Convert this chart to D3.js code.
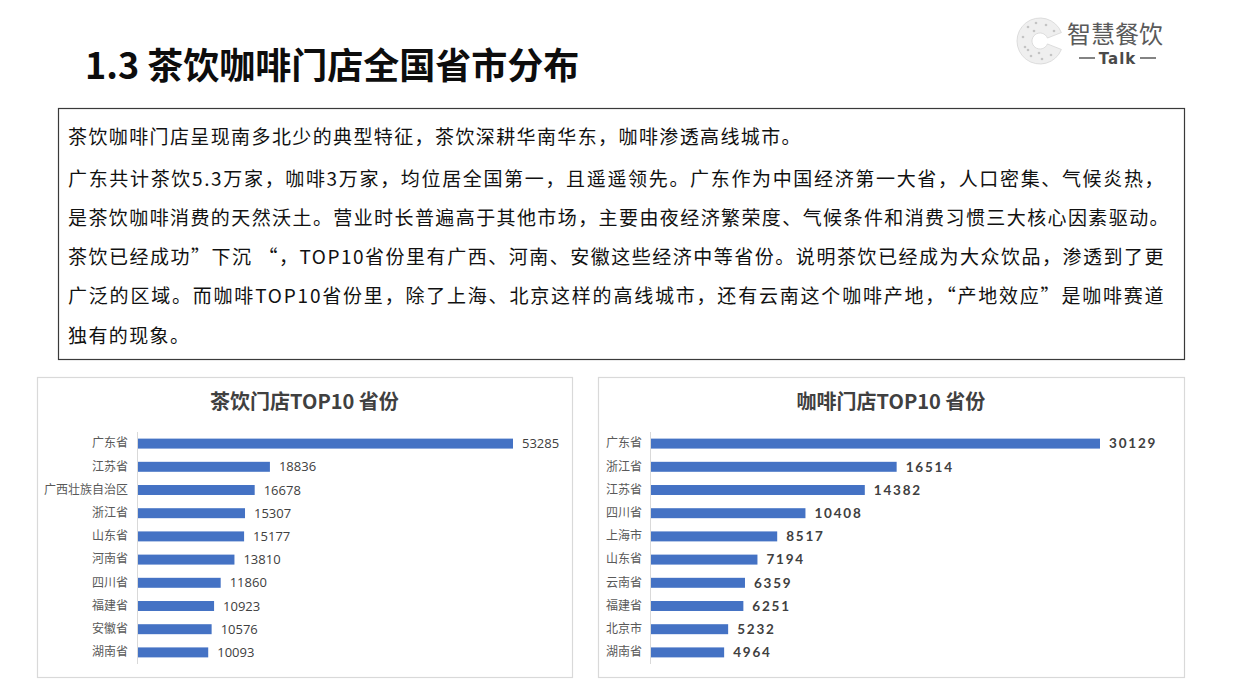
<!DOCTYPE html>
<html><head><meta charset="utf-8">
<script src="https://cdn.jsdelivr.net/npm/d3@7"></script>
<style>
html,body{margin:0;padding:0;background:#fff;}
svg{display:block;}
</style></head>
<body>
<svg id="c" width="1240" height="697"></svg>
<script>
const pageTitle = "1.3 茶饮咖啡门店全国省市分布";
const bodyLines = [
  "茶饮咖啡门店呈现南多北少的典型特征，茶饮深耕华南华东，咖啡渗透高线城市。",
  "广东共计茶饮5.3万家，咖啡3万家，均位居全国第一，且遥遥领先。广东作为中国经济第一大省，人口密集、气候炎热，",
  "是茶饮咖啡消费的天然沃土。营业时长普遍高于其他市场，主要由夜经济繁荣度、气候条件和消费习惯三大核心因素驱动。",
  "茶饮已经成功”下沉 “，TOP10省份里有广西、河南、安徽这些经济中等省份。说明茶饮已经成为大众饮品，渗透到了更",
  "广泛的区域。而咖啡TOP10省份里，除了上海、北京这样的高线城市，还有云南这个咖啡产地，“产地效应”是咖啡赛道",
  "独有的现象。"
];
const teaTitle = "茶饮门店TOP10 省份";
const teaProvinces = ["广东省","江苏省","广西壮族自治区","浙江省","山东省","河南省","四川省","福建省","安徽省","湖南省"];
const teaValues = [53285,18836,16678,15307,15177,13810,11860,10923,10576,10093];
const coffeeTitle = "咖啡门店TOP10 省份";
const coffeeProvinces = ["广东省","浙江省","江苏省","四川省","上海市","山东省","云南省","福建省","北京市","湖南省"];
const coffeeValues = [30129,16514,14382,10408,8517,7194,6359,6251,5232,4964];

const svg = d3.select("#c");
const CJK = "'Noto Sans CJK SC','Noto Sans',sans-serif";

// Page title
svg.append("text").attr("x",85).attr("y",79)
  .attr("font-family",CJK).attr("font-weight",700).attr("font-size",36)
  .attr("fill","#0d0d0d").text(pageTitle);

// Logo
const logo = svg.append("g");
const arc = d3.arc().innerRadius(8).outerRadius(23).startAngle(Math.PI*0.62).endAngle(Math.PI*2.38);
logo.append("path").attr("d",arc()).attr("transform","translate(1040,41)")
  .attr("fill","#efefef").attr("stroke","#d6d6d6").attr("stroke-width",0.8);
const dots = [[-12,-14],[-4,-18],[6,-16],[-17,-4],[-15,6],[-9,15],[2,18],[11,14],[-6,-10],[-12,9],[14,-10],[-1,12]];
logo.selectAll("circle.d").data(dots).join("circle")
  .attr("cx",d=>1040+d[0]).attr("cy",d=>41+d[1]).attr("r",1.3).attr("fill","#c4c4c4");
logo.append("text").attr("x",1067).attr("y",43).attr("font-family",CJK).attr("font-size",24)
  .attr("font-weight",400).attr("fill","#5a5a5a").text("智慧餐饮");
logo.append("line").attr("x1",1079).attr("x2",1095).attr("y1",58).attr("y2",58).attr("stroke","#5a5a5a").attr("stroke-width",1.5);
logo.append("line").attr("x1",1140).attr("x2",1156).attr("y1",58).attr("y2",58).attr("stroke","#5a5a5a").attr("stroke-width",1.5);
logo.append("text").attr("x",1117.5).attr("y",64).attr("text-anchor","middle")
  .attr("font-family","'DejaVu Sans',sans-serif").attr("font-weight",700).attr("font-size",15)
  .attr("letter-spacing",1).attr("fill","#4a4a4a").text("Talk");

// Text box
svg.append("rect").attr("x",58.5).attr("y",108.5).attr("width",1126).attr("height",251)
  .attr("fill","#fff").attr("stroke","#3a3a3a").attr("stroke-width",1.2);
const lineWidths = [734,1097,1102,1097,1097,null];
const lineY = [144,186,225,264,303,343];
bodyLines.forEach((t,i)=>{
  const el = svg.append("text").attr("x",68).attr("y",lineY[i])
    .attr("font-family",CJK).attr("font-size",19).attr("fill","#111")
    .attr("letter-spacing",1.4).text(t);
  if(lineWidths[i]) el.attr("textLength",lineWidths[i]).attr("lengthAdjust","spacing");
});

// Chart panels
function panel(cfg){
  const g = svg.append("g");
  g.append("rect").attr("x",cfg.px+0.5).attr("y",377.5).attr("width",cfg.pw).attr("height",300)
    .attr("fill","#fff").attr("stroke","#d9d9d9").attr("stroke-width",1.2);
  g.append("text").attr("x",cfg.px+cfg.pw/2).attr("y",409).attr("text-anchor","middle")
    .attr("font-family",CJK).attr("font-weight",700).attr("font-size",20)
    .attr("fill","#404040").text(cfg.title);
  const y = d3.scaleBand().domain(cfg.cats).range([432,664]).paddingInner(0.57).paddingOuter(0.285);
  const x = d3.scaleLinear().domain([0,cfg.max]).range([cfg.ax,cfg.ax+cfg.aw]);
  g.selectAll("rect.bar").data(cfg.vals).join("rect").attr("class","bar")
    .attr("x",x(0)).attr("y",(d,i)=>y(cfg.cats[i]))
    .attr("width",d=>x(d)-x(0)).attr("height",y.bandwidth())
    .attr("fill","#4472C4");
  const axis = d3.axisLeft(y).tickSize(0).tickPadding(cfg.tp);
  const ag = g.append("g").attr("transform",`translate(${cfg.ax},0)`).call(axis);
  ag.select(".domain").attr("stroke","#d9d9d9").attr("stroke-width",1).attr("d","M0.5,432V664");
  ag.selectAll("text").attr("font-family",CJK).attr("font-size",12).attr("fill","#595959");
  g.selectAll("text.val").data(cfg.vals).join("text").attr("class","val")
    .attr("x",d=>x(d)+9).attr("y",(d,i)=>y(cfg.cats[i])+y.bandwidth()/2)
    .attr("dy","0.36em").attr("font-family",cfg.vf).attr("font-weight",cfg.vw)
    .attr("letter-spacing",cfg.ls).attr("font-size",cfg.vs).attr("fill","#404040")
    .text(d=>d);
}
panel({px:37,pw:535,title:teaTitle,cats:teaProvinces,vals:teaValues,ax:137,aw:376,max:53285,tp:9,
  vf:"'Open Sans','Noto Sans',sans-serif",vw:400,ls:0,vs:13});
panel({px:598,pw:586,title:coffeeTitle,cats:coffeeProvinces,vals:coffeeValues,ax:650,aw:450,max:30129,tp:8,
  vf:"'Lato','DejaVu Sans',sans-serif",vw:700,ls:1.8,vs:13.5});
</script>
</body></html>
